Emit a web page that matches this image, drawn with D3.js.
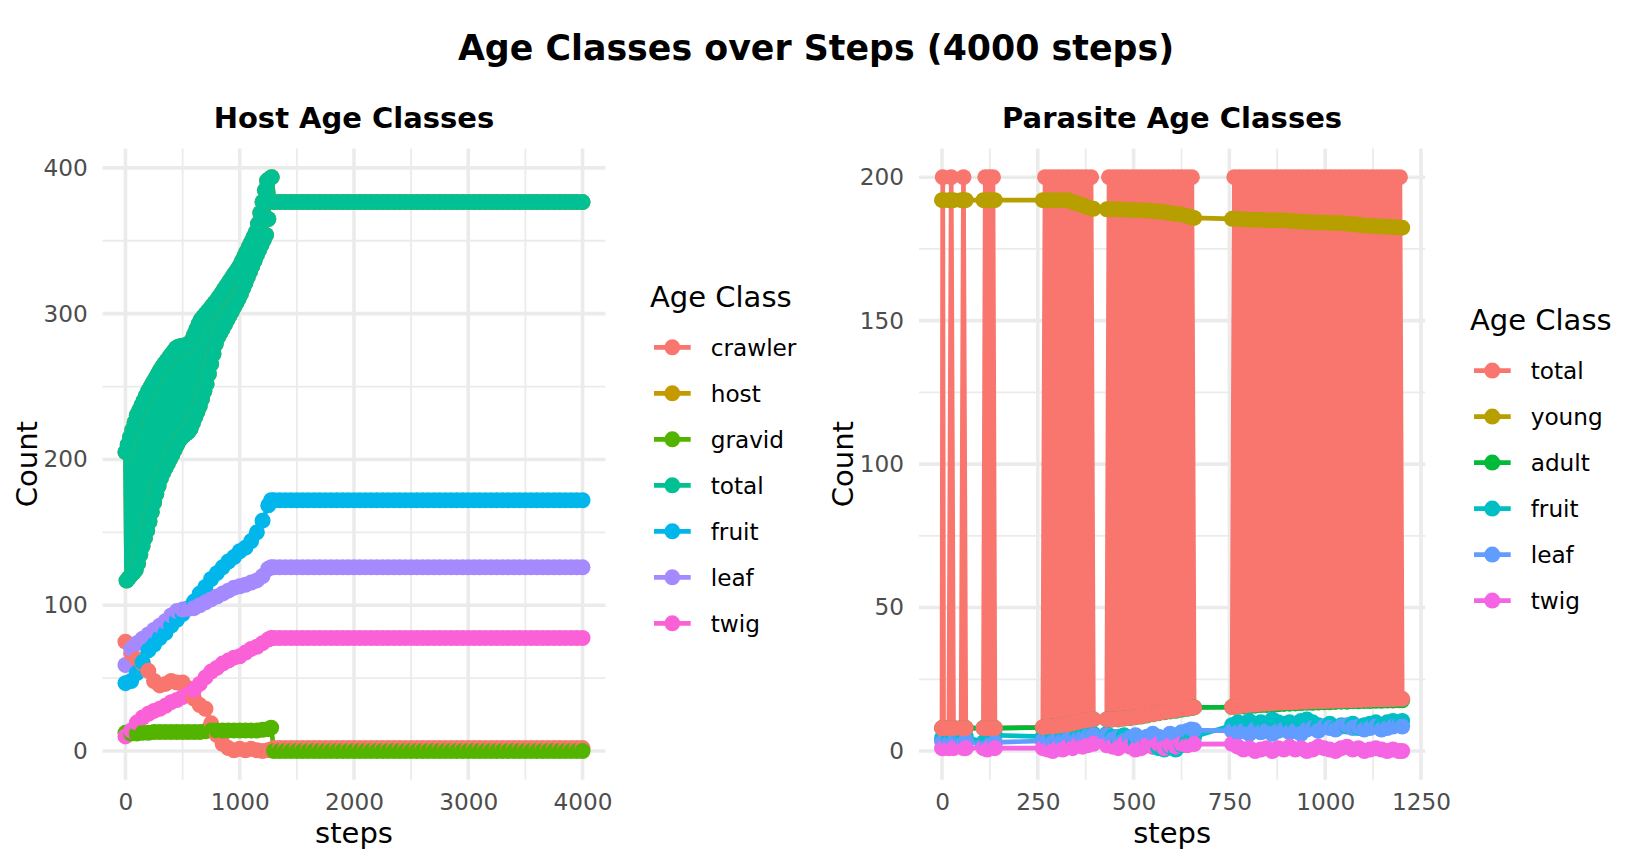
<!DOCTYPE html>
<html>
<head>
<meta charset="utf-8">
<script src="https://cdn.jsdelivr.net/npm/d3@7"></script>
<style>
  body { margin: 0; background: #ffffff; }
  svg { display: block; }
</style>
</head>
<body>
<svg id="chart" width="1632" height="865"></svg>
<script>
// ---------------- DATA ----------------
const mainTitle = "Age Classes over Steps (4000 steps)";
const hostTitle = "Host Age Classes";
const parasiteTitle = "Parasite Age Classes";
const legendTitle = "Age Class";
const xLabel = "steps";
const yLabel = "Count";

const hostClasses = ["crawler", "host", "gravid", "total", "fruit", "leaf", "twig"];
const hostColors = ["#F8766D", "#C49A00", "#53B400", "#00C094", "#00B6EB", "#A58AFF", "#FB61D7"];
const parasiteClasses = ["total", "young", "adult", "fruit", "leaf", "twig"];
const parasiteColors = ["#F8766D", "#B79F00", "#00BA38", "#00BFC4", "#619CFF", "#F564E3"];

const hostTicksX = [0, 1000, 2000, 3000, 4000];
const hostMinorX = [500, 1500, 2500, 3500];
const hostTicksY = [0, 100, 200, 300, 400];
const hostMinorY = [50, 150, 250, 350];
const parasiteTicksX = [0, 250, 500, 750, 1000, 1250];
const parasiteMinorX = [125, 375, 625, 875, 1125];
const parasiteTicksY = [0, 50, 100, 150, 200];
const parasiteMinorY = [25, 75, 125, 175];

// Host: smooth series sampled every 50 steps (growth phase, then flat plateau)
const hostSteps = [0,50,100,150,200,250,300,350,400,450,500,550,600,650,700,750,800,850,900,950,1000,1050,1100,1150,1200,1250,1275,
  1300,1350,1400,1450,1500,1550,1600,1650,1700,1750,1800,1850,1900,1950,2000,2050,2100,2150,2200,2250,2300,2350,2400,2450,2500,
  2550,2600,2650,2700,2750,2800,2850,2900,2950,3000,3050,3100,3150,3200,3250,3300,3350,3400,3450,3500,3550,3600,3650,3700,3750,
  3800,3850,3900,3950,4000];
const hostCrawler = [75,67,63,60,55,48,45,46,48,47,47,43,36,31.5,29,19,11,5,2,0.5,1.5,0.5,1.5,0.5,0,0.5,1,
  2,2,2,2,2,2,2,2,2,2,2, 2,2,2,2,2,2,2,2,2,2,2, 2,2,2,2,2,2,2,2,2,2,2, 2,2,2,2,2,2,2,2,2,2,2, 2,2,2,2,2,2,2,2,2,2,2];
const hostGravid = [12.5,12,12,12.5,12.5,13,13,13,13,13,13,13,13,13,13.5,14,14,14,14,14,14,14,14,14,14.5,15,16,
  0,0,0,0,0,0,0,0,0,0,0, 0,0,0,0,0,0,0,0,0,0,0, 0,0,0,0,0,0,0,0,0,0,0, 0,0,0,0,0,0,0,0,0,0,0, 0,0,0,0,0,0,0,0,0,0,0];
const hostFruit = [46.5,48,53.5,61,69,73,77.5,81,86,90,94,98,102.5,108,112.5,118,122,126,130,133,137,139.5,144,150,158,168.5,172,
  172,172,172,172,172,172,172,172,172,172,172, 172,172,172,172,172,172,172,172,172,172,172, 172,172,172,172,172,172,172,172,172,172,172,
  172,172,172,172,172,172,172,172,172,172,172, 172,172,172,172,172,172,172,172,172,172,172];
const hostLeaf = [59,70,74,77,80,83,86,89,93,96,97,97.5,98,100,102,104,106,108,110,112,113,114,115.5,117,120,125,126,
  126,126,126,126,126,126,126,126,126,126,126, 126,126,126,126,126,126,126,126,126,126,126, 126,126,126,126,126,126,126,126,126,126,126,
  126,126,126,126,126,126,126,126,126,126,126, 126,126,126,126,126,126,126,126,126,126,126];
const hostTwig = [10,14,19.5,23,25.5,27.5,29,31,33.5,35,37,39,42,46,50.5,54.5,57,60,62,64,65,67.5,70,71.5,74,76.5,77.5,
  77.5,77.5,77.5,77.5,77.5,77.5,77.5,77.5,77.5,77.5,77.5, 77.5,77.5,77.5,77.5,77.5,77.5,77.5,77.5,77.5,77.5,77.5,
  77.5,77.5,77.5,77.5,77.5,77.5,77.5,77.5,77.5,77.5,77.5, 77.5,77.5,77.5,77.5,77.5,77.5,77.5,77.5,77.5,77.5,77.5,
  77.5,77.5,77.5,77.5,77.5,77.5,77.5,77.5,77.5,77.5,77.5];

// Host total: jumps between an upper and a lower level at every sample until ~1280, then flat
const hostTotalSteps = [0,10,20,30,40,50,60,70,80,90,100,110,120,130,140,150,160,170,180,190,200,210,220,230,240,250,260,270,280,290,
  300,310,320,330,340,350,360,370,380,390,400,410,420,430,440,450,460,470,480,490,500,510,520,530,540,550,560,570,580,590,
  600,610,620,630,640,650,660,670,680,690,700,710,720,730,740,750,760,770,780,790,800,810,820,830,840,850,860,870,880,890,
  900,910,920,930,940,950,960,970,980,990,1000,1010,1020,1030,1040,1050,1060,1070,1080,1090,1100,1110,1120,1130,1140,1150,
  1160,1170,1180,1190,1200,1210,1220,1230,1240,1250,1260,1280,
  1300,1350,1400,1450,1500,1550,1600,1650,1700,1750,1800,1850,1900,1950,2000,2050,2100,2150,2200,2250,2300,2350,2400,2450,2500,
  2550,2600,2650,2700,2750,2800,2850,2900,2950,3000,3050,3100,3150,3200,3250,3300,3350,3400,3450,3500,3550,3600,3650,3700,3750,
  3800,3850,3900,3950,4000];
const hostTotal = [205,116.9, 210.1,118.8, 215.2,120.6, 220.3,122.4, 225.4,124.3, 230.3,128.7, 233.7,134.8, 237,140.6,
  240.3,146, 243.7,151.3, 247,157.3, 249.7,163.8, 252.5,170.4, 255.2,176.3, 258,181.7, 260.7,187.1, 263.3,191, 265.5,194,
  267.6,197.1, 269.7,200.2, 271.9,203.3, 274,206.5, 276.1,209.7, 277.2,212.9, 277.6,214.9, 277.9,216.3, 278.2,217.7,
  278.6,219, 278.9,221.2, 281.9,225, 285.5,228.9, 289.2,232.8, 292.8,236.6, 295.8,241.6, 297.7,246.7, 299.6,251.7,
  301.5,258.6, 303.4,265.4, 305.4,272.3, 307.3,279.2, 309.2,283.8, 311.6,286.7, 313.9,289.6, 316.3,292.6, 318.6,295.5,
  321,298.5, 323.4,301.4, 325.7,304.4, 328.1,307.3, 330.4,310.2, 332.8,313.5, 336,317.4, 339.2,321.2, 342.6,325.1,
  345.8,328.9, 349.1,332.7, 352.4,336.5, 355.7,340.3, 361.6,343.8, 369.1,347.2, 376.7,350.6, 384.6,354, 391.2,364.9,
  392.4, 393.6,
  376.5,376.5,376.5,376.5,376.5,376.5,376.5,376.5,376.5,376.5,376.5, 376.5,376.5,376.5,376.5,376.5,376.5,376.5,376.5,376.5,376.5,376.5,
  376.5,376.5,376.5,376.5,376.5,376.5,376.5,376.5,376.5,376.5,376.5, 376.5,376.5,376.5,376.5,376.5,376.5,376.5,376.5,376.5,376.5,376.5,
  376.5,376.5,376.5,376.5,376.5,376.5,376.5,376.5,376.5,376.5,376.5];
// "host" count is not visible in the picture: it lies under "total"
const hostHostSteps = hostTotalSteps;
const hostHost = hostTotal;

// Parasite: steps where data exist (blocks with gaps)
const parasiteSteps = [0,4, 18,24,30, 50,56,62, 108,118,128,138,
  263,276,289,302,315,328,341,354,367,380,395,
  430,445,460,475,490,505,520,535,550,565,580,595,610,625,640,650,658,
  757,772,787,802,817,832,847,862,877,892,907,922,937,952,967,982,997,1012,1027,1042,1057,1072,1087,1102,1117,1132,1147,1162,1177,1192,1201];
const parasiteYoung = [192,192, 192,192,192, 192,192,192, 192,192,192,192,
  192,192,192,192,192,192,191.3,190.8,190.2,189.5,189,
  188.8,188.8,188.8,188.7,188.6,188.5,188.5,188.4,188.2,188,187.8,187.5,187.2,187,186.5,186,185.8,
  185.5,185.4,185.3,185.2,185.2,185.1,185,185,185,185,184.8,184.6,184.5,184.4,184.3,184.2,184.2,184.1,184,184,183.8,183.6,183.4,183.2,183,183,182.8,182.7,182.6,182.5,182.4];
const parasiteAdult = [8,8, 8,8,8, 8,8,8, 8,8,8,8,
  8.2,8.4,8.6,8.8,9,9.2,9.6,10,10.4,10.8,11,
  11,11,11,11.3,11.5,11.8,12,12.4,12.8,13.2,13.5,13.8,14,14.4,14.7,15,15.2,
  15.3,15.4,15.5,15.6,15.8,16,16,16.2,16.3,16.4,16.5,16.6,16.7,16.8,16.8,16.9,17,17,17.1,17.2,17.2,17.3,17.3,17.4,17.4,17.5,17.5,17.6,17.6,17.7,17.7];
const parasiteFruit = [4.5,5, 4,5,4.5, 5,4,5, 3,4.5,4,5.5,
  5,4.5,5.5,4,6,5,4.5,6,5.5,6.5,6,
  6,5,4,5.5,4.5,3,4,2.5,1.5,1,0.5,1.5,0.5,2,3.5,4.5,5,
  9,10,9.5,10.5,9,10,9.5,11,10,9.5,10,9,10.5,11,10,9,8.5,9.5,8,9,8.5,9.5,8,9,9.5,10,9,10,10.5,10,10.5];
const parasiteLeaf = [3.5,3.5, 3,3.5,3, 3.5,3,3.5, 2,1.5,2.5,3,
  3.5,4,3,4.5,3.5,4,5,4,4.5,5,5.5,
  5.5,4,5,3.5,4.5,5.5,4,5,6,5,4.5,6,5.5,6.5,7,7.5,7.3,
  7,6.5,7,6,7.5,6.5,7,6,7,7.5,6.5,7,6,7.5,8,7,8.5,8,7.5,8.5,9,8,8.5,7.5,8,8.5,7.5,8,8.5,9,8.5];
const parasiteTwig = [1,1, 1,1.5,1, 1.5,1,1, 1,0.5,1.5,1,
  1,0.5,0,1,0.5,1.5,1,2,1.5,2,2.5,
  2,1.5,1,2.5,1.5,0.5,1,2,1.5,2.5,1,2,1.5,2.5,2,2.5,2.4,
  2.5,1.5,0.5,1,0,0.5,1,0,1,0.5,1.5,0.5,1,0,0.5,1.5,1,0.5,0,1,1.5,0.5,1,0,0.5,1,0.5,0,0.5,0,0];

// Parasite total: jumps between ~200 and a low level at every sample inside each block
const parasiteTotalSteps = [0,2,4, 18,24,30, 50,56,62, 108,113,118,123,128,133,138,
  263,269,275,281,287,293,299,305,311,317,323,329,335,341,347,353,359,365,371,377,383,389,395,
  430,436,442,448,454,460,466,472,478,484,490,496,502,508,514,520,526,532,538,544,550,556,562,568,574,580,586,592,598,604,610,616,622,628,634,640,646,652,658,
  757,763,769,775,781,787,793,799,805,811,817,823,829,835,841,847,853,859,865,871,877,883,889,895,901,907,913,919,925,931,937,943,949,955,961,967,973,979,985,991,
  997,1003,1009,1015,1021,1027,1033,1039,1045,1051,1057,1063,1069,1075,1081,1087,1093,1099,1105,1111,1117,1123,1129,1135,1141,1147,1153,1159,1165,1171,1177,1183,1189,1195,1201];
const parasiteTotal = [8,200,8, 8,200,8, 8,200,8, 8,200,8,200,8,200,8,
  8.3,200,8.5,200,8.6,200,8.8,200,9,200,9.2,200,9.5,200,9.9,200,10.3,200,10.6,200,10.9,200,11.1,
  11,200,11,200,11.1,200,11.2,200,11.4,200,11.6,200,11.8,200,12,200,12.3,200,12.6,200,12.9,200,13.2,200,13.5,200,13.8,200,14,200,14.3,200,14.6,200,14.8,200,15,200,15.2,
  15.3,200,15.5,200,15.7,200,15.9,200,16.1,200,16.2,200,16.4,200,16.5,200,16.6,200,16.7,200,16.8,200,16.9,200,17,200,17,200,17.1,200,17.2,200,17.2,200,17.3,200,17.3,200,
  17.4,200,17.4,200,17.5,200,17.5,200,17.6,200,17.6,200,17.7,200,17.7,200,17.8,200,17.8,200,17.9,200,17.9,200,18,200,18,200,18,200,18.1,200,18.1,200,18.2,200,18.2];

// ---------------- DRAWING ----------------
const FONT = "'DejaVu Sans', 'Liberation Sans', sans-serif";
const svg = d3.select("#chart");
svg.append("rect").attr("width", 1632).attr("height", 865).attr("fill", "#ffffff");

function zip(steps, values) {
  const n = Math.min(steps.length, values.length);
  const out = [];
  for (let i = 0; i < n; i++) out.push({ step: steps[i], value: values[i] });
  return out;
}

const LINE_W = 4.7, POINT_R = 8;

function drawPanel(p) {
  const allSteps = p.series.flatMap(s => s.data.map(d => d.step));
  const allVals = p.series.flatMap(s => s.data.map(d => d.value));
  const xLo = d3.min(allSteps), xHi = d3.max(allSteps);
  const yLo = Math.min(0, d3.min(allVals)), yHi = d3.max(allVals);
  const xr = xHi - xLo, yr = yHi - yLo;
  const x = d3.scaleLinear().domain([xLo - 0.05 * xr, xHi + 0.05 * xr]).range([p.x0, p.x1]);
  const y = d3.scaleLinear().domain([yLo - 0.05 * yr, yHi + 0.05 * yr]).range([p.yBot, p.yTop]);

  const g = svg.append("g");
  const clipId = "clip-" + p.id;
  svg.append("clipPath").attr("id", clipId).append("rect")
    .attr("x", p.x0).attr("y", p.yTop).attr("width", p.x1 - p.x0).attr("height", p.yBot - p.yTop);

  // grid
  const grid = g.append("g");
  grid.selectAll(".vmin").data(p.minorX).join("line")
    .attr("x1", d => x(d)).attr("x2", d => x(d)).attr("y1", p.yTop).attr("y2", p.yBot)
    .attr("stroke", "#EBEBEB").attr("stroke-width", 1.8);
  grid.selectAll(".hmin").data(p.minorY).join("line")
    .attr("y1", d => y(d)).attr("y2", d => y(d)).attr("x1", p.x0).attr("x2", p.x1)
    .attr("stroke", "#EBEBEB").attr("stroke-width", 1.8);
  grid.selectAll(".vmaj").data(p.ticksX).join("line")
    .attr("x1", d => x(d)).attr("x2", d => x(d)).attr("y1", p.yTop).attr("y2", p.yBot)
    .attr("stroke", "#EBEBEB").attr("stroke-width", 3.6);
  grid.selectAll(".hmaj").data(p.ticksY).join("line")
    .attr("y1", d => y(d)).attr("y2", d => y(d)).attr("x1", p.x0).attr("x2", p.x1)
    .attr("stroke", "#EBEBEB").attr("stroke-width", 3.6);

  const plot = g.append("g").attr("clip-path", `url(#${clipId})`);
  const line = d3.line().x(d => x(d.step)).y(d => y(d.value));

  // lines, in legend order
  p.series.forEach(s => {
    plot.append("path").datum(s.data)
      .attr("d", line).attr("fill", "none").attr("stroke", s.color)
      .attr("stroke-width", LINE_W).attr("stroke-linejoin", "round");
  });

  // points: other classes interleaved by step, "total" drawn last
  const others = [];
  p.series.forEach((s, si) => {
    if (s.name === "total") return;
    s.data.forEach(d => others.push({ step: d.step, value: d.value, color: s.color, si: si }));
  });
  others.sort((a, b) => a.step - b.step || a.si - b.si);
  const totalS = p.series.find(s => s.name === "total");
  const pts = others.concat(totalS.data.map(d => ({ step: d.step, value: d.value, color: totalS.color })));
  plot.append("g").selectAll("circle").data(pts).join("circle")
    .attr("cx", d => x(d.step)).attr("cy", d => y(d.value)).attr("r", POINT_R)
    .attr("fill", d => d.color);

  // axes
  const ax = g.append("g").attr("transform", `translate(0,${p.yBot})`)
    .call(d3.axisBottom(x).tickValues(p.ticksX).tickFormat(d3.format("d")).tickSize(0).tickPadding(14.3));
  const ay = g.append("g").attr("transform", `translate(${p.x0},0)`)
    .call(d3.axisLeft(y).tickValues(p.ticksY).tickFormat(d3.format("d")).tickSize(0).tickPadding(14.9));
  [ax, ay].forEach(a => {
    a.select(".domain").remove();
    a.attr("font-family", FONT).attr("font-size", 23.2);
    a.selectAll("text").attr("fill", "#4D4D4D");
  });

  // titles
  const cx = (p.x0 + p.x1) / 2, cy = (p.yTop + p.yBot) / 2;
  g.append("text").attr("x", cx).attr("y", 128).attr("text-anchor", "middle")
    .attr("font-family", FONT).attr("font-size", 29).attr("font-weight", "bold").attr("fill", "#000")
    .text(p.title);
  g.append("text").attr("x", cx).attr("y", 843).attr("text-anchor", "middle")
    .attr("font-family", FONT).attr("font-size", 29).attr("fill", "#000").text(xLabel);
  g.append("text").attr("transform", `translate(${p.countX},${cy}) rotate(-90)`).attr("text-anchor", "middle")
    .attr("font-family", FONT).attr("font-size", 29).attr("fill", "#000").text(yLabel);

  // legend
  const lg = g.append("g");
  lg.append("text").attr("x", p.legX).attr("y", p.legTitleY)
    .attr("font-family", FONT).attr("font-size", 29).attr("fill", "#000").text(legendTitle);
  const items = lg.selectAll(".item").data(p.series).join("g")
    .attr("transform", (d, i) => `translate(${p.legX},${p.legFirstY + i * 46})`);
  items.append("line").attr("x1", 4).attr("x2", 40.7).attr("y1", 0).attr("y2", 0)
    .attr("stroke", d => d.color).attr("stroke-width", LINE_W);
  items.append("circle").attr("cx", 22.3).attr("cy", 0).attr("r", POINT_R).attr("fill", d => d.color);
  items.append("text").attr("x", 60.7).attr("y", 8.3)
    .attr("font-family", FONT).attr("font-size", 23.2).attr("fill", "#000").text(d => d.name);
}

const hostData = {
  crawler: zip(hostSteps, hostCrawler),
  host: zip(hostHostSteps, hostHost),
  gravid: zip(hostSteps, hostGravid),
  total: zip(hostTotalSteps, hostTotal),
  fruit: zip(hostSteps, hostFruit),
  leaf: zip(hostSteps, hostLeaf),
  twig: zip(hostSteps, hostTwig)
};
const parasiteData = {
  total: zip(parasiteTotalSteps, parasiteTotal),
  young: zip(parasiteSteps, parasiteYoung),
  adult: zip(parasiteSteps, parasiteAdult),
  fruit: zip(parasiteSteps, parasiteFruit),
  leaf: zip(parasiteSteps, parasiteLeaf),
  twig: zip(parasiteSteps, parasiteTwig)
};

drawPanel({
  id: "host", x0: 102.6, x1: 605.4, yTop: 148.5, yBot: 779.7,
  ticksX: hostTicksX, minorX: hostMinorX, ticksY: hostTicksY, minorY: hostMinorY,
  series: hostClasses.map((c, i) => ({ name: c, color: hostColors[i], data: hostData[c] })),
  title: hostTitle, countX: 36.5, legX: 650, legTitleY: 307, legFirstY: 347.3
});
drawPanel({
  id: "parasite", x0: 919, x1: 1425.2, yTop: 148.5, yBot: 779.7,
  ticksX: parasiteTicksX, minorX: parasiteMinorX, ticksY: parasiteTicksY, minorY: parasiteMinorY,
  series: parasiteClasses.map((c, i) => ({ name: c, color: parasiteColors[i], data: parasiteData[c] })),
  title: parasiteTitle, countX: 853, legX: 1470, legTitleY: 330, legFirstY: 370.6
});

svg.append("text").attr("x", 816).attr("y", 59.5).attr("text-anchor", "middle")
  .attr("font-family", FONT).attr("font-size", 34.8).attr("font-weight", "bold").attr("fill", "#000")
  .text(mainTitle);
</script>
</body>
</html>
